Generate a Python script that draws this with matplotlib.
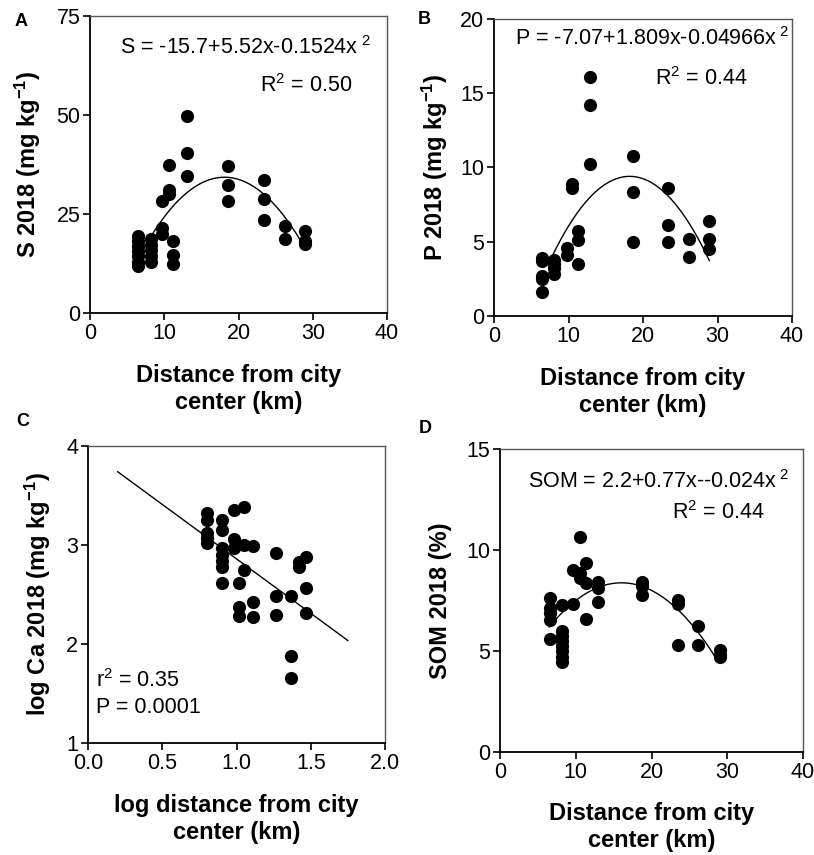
import numpy as np
import matplotlib
matplotlib.use("Agg")
import matplotlib.pyplot as plt

plt.rcParams['font.family'] = ['Liberation Sans', 'DejaVu Sans']
plt.rcParams['mathtext.fontset'] = 'custom'
plt.rcParams['mathtext.rm'] = 'Liberation Sans'
plt.rcParams['mathtext.it'] = 'Liberation Sans:italic'
plt.rcParams['mathtext.bf'] = 'Liberation Sans:bold'

# ---- data ----
# A: sulphur vs distance
s_dist = [6.5]*7 + [8.2]*5 + [9.7]*3 + [10.6]*3 + [11.2]*3 + [13.0]*3 + [18.6]*3 + [23.4]*3 + [26.2]*2 + [29.0]*3
s_val = [19.5, 18.2, 17.0, 15.6, 14.3, 13.0, 11.8,
         18.7, 17.2, 15.8, 14.5, 13.0,
         28.2, 21.4, 20.0,
         37.4, 31.1, 30.0,
         18.3, 14.7, 12.4,
         49.8, 40.5, 34.5,
         37.0, 32.4, 28.2,
         33.5, 28.8, 23.5,
         22.0, 18.7,
         20.7, 18.3, 17.5]
s_coef = [-15.7, 5.52, -0.1524]

# B: phosphorus vs distance
p_dist = [6.5]*5 + [8.1]*4 + [9.8]*2 + [10.5]*2 + [11.3]*3 + [12.9]*3 + [18.6]*3 + [23.3]*3 + [26.2]*2 + [28.9]*3
p_val = [3.9, 3.7, 2.7, 2.5, 1.6,
         3.8, 3.5, 3.2, 2.8,
         4.6, 4.1,
         8.9, 8.6,
         5.7, 5.1, 3.5,
         16.1, 14.2, 10.25,
         10.8, 8.35, 5.0,
         8.6, 6.1, 5.0,
         5.2, 3.95,
         6.4, 5.2, 4.5]
p_coef = [-7.07, 1.809, -0.04966]

# C: log Ca vs log distance
ca_logdist = [0.80]*5 + [0.905]*7 + [0.985]*3 + [1.05]*3 + [1.02]*3 + [1.11]*3 + [1.265]*3 + [1.37]*3 + [1.42]*2 + [1.465]*3
ca_val = [3.32, 3.25, 3.12, 3.07, 3.02,
          3.25, 3.15, 2.97, 2.90, 2.84, 2.78, 2.62,
          3.35, 3.06, 2.97,
          3.38, 3.00, 2.75,
          2.62, 2.37, 2.28,
          2.99, 2.42, 2.27,
          2.92, 2.48, 2.29,
          2.48, 1.88, 1.66,
          2.83, 2.78,
          2.88, 2.57, 2.31]
ca_line = [3.96, -1.10]

# D: soil organic matter vs distance
som_dist = [6.55]*5 + [8.13]*8 + [9.67]*2 + [10.5]*3 + [11.4]*3 + [13.0]*3 + [18.7]*3 + [23.5]*3 + [26.2]*2 + [29.1]*3
som_val = [7.62, 7.13, 6.88, 6.55, 5.61,
           7.29, 5.97, 5.73, 5.48, 5.23, 4.98, 4.70, 4.44,
           9.03, 7.33,
           10.63, 8.86, 8.61,
           9.36, 8.37, 6.60,
           8.42, 8.12, 7.43,
           8.40, 8.20, 7.79,
           7.54, 7.33, 5.28,
           6.22, 5.31,
           5.03, 4.82, 4.70]
som_coef = [2.2, 0.77, -0.024]

W, H = 814, 855
fig = plt.figure(figsize=(W/100, H/100), dpi=100)

def make_ax(l, t, r, b):
    ax = fig.add_axes([l/W, 1-b/H, (r-l)/W, (b-t)/H])
    for sp in ['left', 'bottom']:
        ax.spines[sp].set_linewidth(1.3)
        ax.spines[sp].set_color('black')
    for sp in ['top', 'right']:
        ax.spines[sp].set_linewidth(1.0)
        ax.spines[sp].set_color('#555555')
    ax.tick_params(direction='out', length=5, width=1.2, labelsize=15.5, pad=2,
                   top=False, right=False)
    return ax

def quad(c, x):
    return c[0] + c[1]*x + c[2]*x**2

TXT = 15.5
LAB = 17

dist_label = "Distance from city\ncenter (km)"

# ---- A ----
ax = make_ax(90, 16, 387, 313)
ax.scatter(s_dist, s_val, s=90, color='black', zorder=3, linewidths=0)
xx = np.linspace(8, 28.6, 200)
ax.plot(xx, quad(s_coef, xx), color='black', lw=1)
ax.set_xlim(0, 40)
ax.set_ylim(0, 75)
ax.set_xticks([0, 10, 20, 30, 40])
ax.set_yticks([0, 25, 50, 75])
ax.text(4.0, 67, "S = -15.7+5.52x-0.1524x$^{\\ 2}$", fontsize=TXT, va='center')
ax.text(22.9, 57.4, "R$^2$ = 0.50", fontsize=TXT, va='center')
ax.set_ylabel("S 2018 (mg kg$^{\\mathbf{-1}}$)", fontsize=LAB, fontweight='bold')
ax.yaxis.set_label_coords(-0.158, 0.5)
ax.set_xlabel(dist_label, fontsize=LAB, fontweight='bold')
ax.xaxis.set_label_coords(0.5, -0.172)

# ---- B ----
ax = make_ax(494, 19, 792, 316)
ax.scatter(p_dist, p_val, s=90, color='black', zorder=3, linewidths=0)
xx = np.linspace(7.8, 28.9, 200)
ax.plot(xx, quad(p_coef, xx), color='black', lw=1)
ax.set_xlim(0, 40)
ax.set_ylim(0, 20)
ax.set_xticks([0, 10, 20, 30, 40])
ax.set_yticks([0, 5, 10, 15, 20])
ax.text(2.8, 18.65, "P = -7.07+1.809x-0.04966x$^{\\ 2}$", fontsize=TXT, va='center')
ax.text(21.6, 16.0, "R$^2$ = 0.44", fontsize=TXT, va='center')
ax.set_ylabel("P 2018 (mg kg$^{\\mathbf{-1}}$)", fontsize=LAB, fontweight='bold')
ax.yaxis.set_label_coords(-0.148, 0.5)
ax.set_xlabel(dist_label, fontsize=LAB, fontweight='bold')
ax.xaxis.set_label_coords(0.5, -0.172)

# ---- C ----
ax = make_ax(88, 446, 385, 743)
ax.scatter(ca_logdist, ca_val, s=90, color='black', zorder=3, linewidths=0)
xx = np.linspace(0.2, 1.75, 50)
ax.plot(xx, ca_line[0] + ca_line[1]*xx, color='black', lw=1)
ax.set_xlim(0, 2)
ax.set_ylim(1, 4)
ax.set_xticks([0, 0.5, 1.0, 1.5, 2.0])
ax.set_xticklabels(["0.0", "0.5", "1.0", "1.5", "2.0"])
ax.set_yticks([1, 2, 3, 4])
ax.text(0.056, 1.63, "r$^2$ = 0.35", fontsize=TXT, va='center')
ax.text(0.056, 1.36, "P = 0.0001", fontsize=TXT, va='center')
ax.set_ylabel("log Ca 2018 (mg kg$^{\\mathbf{-1}}$)", fontsize=LAB, fontweight='bold')
ax.yaxis.set_label_coords(-0.118, 0.5)
ax.set_xlabel("log distance from city\ncenter (km)", fontsize=LAB, fontweight='bold')
ax.xaxis.set_label_coords(0.5, -0.172)

# ---- D ----
ax = make_ax(500, 449, 803, 752)
ax.scatter(som_dist, som_val, s=90, color='black', zorder=3, linewidths=0)
xx = np.linspace(6.5, 28.8, 200)
ax.plot(xx, quad(som_coef, xx), color='black', lw=1)
ax.set_xlim(0, 40)
ax.set_ylim(0, 15)
ax.set_xticks([0, 10, 20, 30, 40])
ax.set_yticks([0, 5, 10, 15])
ax.text(3.7, 13.4, "SOM = 2.2+0.77x--0.024x$^{\\ 2}$", fontsize=TXT, va='center')
ax.text(22.7, 11.86, "R$^2$ = 0.44", fontsize=TXT, va='center')
ax.set_ylabel("SOM 2018 (%)", fontsize=LAB, fontweight='bold')
ax.yaxis.set_label_coords(-0.158, 0.5)
ax.set_xlabel(dist_label, fontsize=LAB, fontweight='bold')
ax.xaxis.set_label_coords(0.5, -0.165)

# panel letters
for lab, x, y in [("A", 15, 21), ("B", 418, 19), ("C", 16, 421), ("D", 419, 428)]:
    fig.text(x/W, 1-y/H, lab, fontsize=13, fontweight='bold', va='center', ha='left')

fig.savefig("out.png", dpi=100)
